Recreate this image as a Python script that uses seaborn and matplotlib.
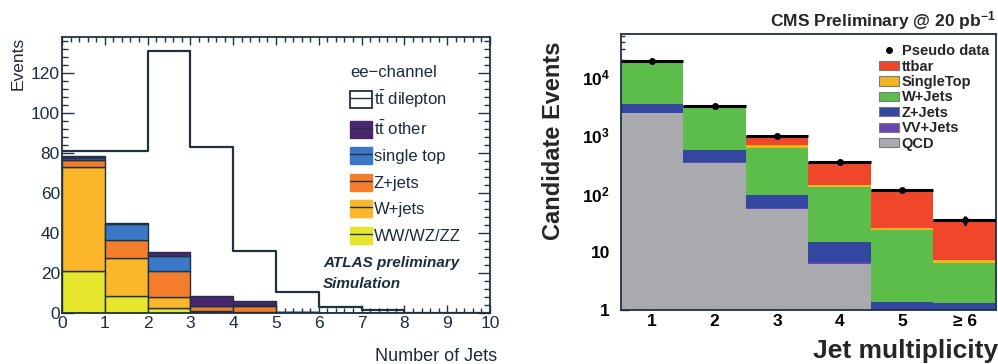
import numpy as np
import pandas as pd
import matplotlib.pyplot as plt
import matplotlib.ticker as mticker
from matplotlib.patches import Patch
from matplotlib.lines import Line2D
import seaborn as sns

# ---- left panel: ATLAS ee-channel, events per jet bin ----
atlas_jets = np.arange(10)
atlas_edges = list(range(11))
ww_wz_zz = [21.0, 8.3, 2.5, 0.3, 0.1, 0.0, 0.0, 0.0, 0.0, 0.0]
w_jets = [52.0, 19.2, 5.5, 0.5, 0.2, 0.1, 0.0, 0.0, 0.0, 0.0]
z_jets = [3.3, 8.8, 13.0, 2.5, 3.0, 0.2, 0.1, 0.0, 0.0, 0.0]
single_top = [1.2, 8.0, 7.3, 0.3, 0.5, 0.1, 0.0, 0.0, 0.0, 0.0]
tt_other = [1.2, 0.5, 2.4, 4.7, 2.4, 0.3, 0.1, 0.1, 0.0, 0.0]
tt_dilepton = [2.3, 36.2, 100.3, 74.7, 24.8, 9.8, 2.8, 1.4, 0.0, 0.0]

# listed bottom -> top of the stack
atlas_processes = ['WW/WZ/ZZ', 'W+jets', 'Z+jets', 'single top', 'tt other']
atlas_values = [ww_wz_zz, w_jets, z_jets, single_top, tt_other]
atlas_colors = ['#e6e62c', '#fbb62a', '#f47d2c', '#3b78c8', '#4b2670']

# ---- right panel: CMS candidate events vs jet multiplicity ----
cms_bins = np.arange(1, 7)
cms_edges = [0.5, 1.5, 2.5, 3.5, 4.5, 5.5, 6.5]
cms_ticklabels = ['1', '2', '3', '4', '5', '≥ 6']
qcd = [2400, 338, 54.5, 6.1, 0.0, 0.0]
vv_jets = [25, 8, 2, 0.5, 0.15, 0.1]
z_plus_jets = [975, 204, 39.5, 8.4, 1.24, 1.24]
w_plus_jets = [15500, 2500, 517, 115, 22.6, 5.16]
single_top_cms = [40, 40, 57, 13, 2.0, 0.8]
ttbar = [60, 130, 300, 209, 87, 28.3]
pseudo_data = [19000, 3200, 970, 350, 113, 35]

# listed bottom -> top of the stack
cms_processes = ['QCD', 'VV+Jets', 'Z+Jets', 'W+Jets', 'SingleTop', 'ttbar']
cms_values = [qcd, vv_jets, z_plus_jets, w_plus_jets, single_top_cms, ttbar]
cms_colors = ['#a9aaae', '#6a45b0', '#3447a0', '#5cbd4a', '#f6b41e', '#f0462a']

sns.set_style('ticks')
plt.rcParams['font.family'] = ['Liberation Sans', 'DejaVu Sans']
plt.rcParams['mathtext.fontset'] = 'custom'
plt.rcParams['mathtext.rm'] = 'Liberation Sans'
plt.rcParams['mathtext.it'] = 'Liberation Sans:italic'
plt.rcParams['mathtext.bf'] = 'Liberation Sans:bold'

line_c = '#1d3344'
txt_c = '#1b2c3e'

fig = plt.figure(figsize=(9.98, 3.64), dpi=100)
ax1 = fig.add_axes([0.0621, 0.140, 0.4289, 0.758])
ax2 = fig.add_axes([0.6222, 0.1484, 0.3758, 0.758])

# ---------------- ATLAS ----------------
# seaborn puts the first hue level on top of the stack, so feed it reversed
df_atlas = pd.DataFrame({
    'jets': np.tile(atlas_jets, len(atlas_processes)),
    'events': np.concatenate(atlas_values),
    'process': np.repeat(atlas_processes, len(atlas_jets)),
})
sns.histplot(data=df_atlas, x='jets', weights='events', hue='process',
             hue_order=atlas_processes[::-1], multiple='stack', bins=atlas_edges,
             palette=atlas_colors[::-1], edgecolor=line_c, linewidth=1.0, alpha=1,
             legend=False, ax=ax1)

atlas_total = np.sum(atlas_values, axis=0) + np.array(tt_dilepton)
sns.histplot(x=atlas_jets, weights=atlas_total, bins=atlas_edges,
             element='step', fill=False, color=line_c, linewidth=1.6, ax=ax1)

ax1.set_xlim(0, 10)
ax1.set_ylim(0, 138)
ax1.xaxis.set_major_locator(mticker.MultipleLocator(1))
ax1.xaxis.set_minor_locator(mticker.MultipleLocator(0.2))
ax1.yaxis.set_major_locator(mticker.MultipleLocator(20))
ax1.yaxis.set_minor_locator(mticker.MultipleLocator(4))
ax1.tick_params(which='both', direction='in', top=True, right=True,
                colors=line_c, labelcolor=txt_c, labelsize=12.5, width=1.0)
ax1.tick_params(axis='y', which='major', length=8.5, pad=1.5)
ax1.tick_params(axis='y', which='minor', length=4.5)
ax1.tick_params(axis='x', which='major', length=6, pad=2)
ax1.tick_params(axis='x', which='minor', length=3.5)
for sp in ax1.spines.values():
    sp.set_visible(True)
    sp.set_color(line_c)
    sp.set_linewidth(1.3)

ax1.set_ylabel('Events', loc='top', fontsize=12.5, color=txt_c)
ax1.yaxis.set_label_coords(-0.086, 1.0)
ax1.set_xlabel('Number of Jets', loc='right', fontsize=13, color=txt_c)
ax1.xaxis.set_label_coords(1.016, -0.125)

tt = r'$\mathrm{t\bar{t}}$'
atlas_handles = [(Patch(facecolor='white', edgecolor=line_c, linewidth=1.3),
                  Line2D([], [], color=line_c, lw=1.0))]
atlas_labels = [tt + ' dilepton', tt + ' other', 'single top', 'Z+jets', 'W+jets', 'WW/WZ/ZZ']
for col in atlas_colors[::-1]:
    atlas_handles.append((Patch(facecolor=col, edgecolor=col, linewidth=1.0),
                          Line2D([], [], color=line_c, lw=1.0)))
leg1 = ax1.legend(atlas_handles, atlas_labels, title='ee\u2212channel',
                  loc='upper left', bbox_to_anchor=(0.654, 0.93), frameon=False,
                  fontsize=12, title_fontsize=12, handlelength=1.3, handleheight=1.2,
                  handletextpad=0.1, labelspacing=0.56, borderpad=0, alignment='left')
for t in leg1.get_texts():
    t.set_color(txt_c)
leg1.get_title().set_color(txt_c)

ax1.text(0.61, 0.181, 'ATLAS preliminary', transform=ax1.transAxes,
         fontsize=11, fontweight='bold', fontstyle='italic', color=txt_c, va='center')
ax1.text(0.61, 0.105, 'Simulation', transform=ax1.transAxes,
         fontsize=11, fontweight='bold', fontstyle='italic', color=txt_c, va='center')

# ---------------- CMS ----------------
df_cms = pd.DataFrame({
    'njets': np.tile(cms_bins, len(cms_processes)),
    'events': np.concatenate(cms_values),
    'process': np.repeat(cms_processes, len(cms_bins)),
})
sns.histplot(data=df_cms, x='njets', weights='events', hue='process',
             hue_order=cms_processes[::-1], multiple='stack', bins=cms_edges,
             palette=cms_colors[::-1], edgecolor='none', linewidth=0, alpha=1,
             legend=False, ax=ax2)
ax2.set_yscale('log')
ax2.errorbar(cms_bins, pseudo_data, xerr=0.5, yerr=np.sqrt(pseudo_data),
             fmt='o', color='black', ms=4, elinewidth=2.2, capsize=0, zorder=5)

ax2.set_xlim(0.5, 6.5)
ax2.set_ylim(1, 5.5e4)
ax2.set_xticks(cms_bins)
ax2.set_xticklabels(cms_ticklabels)
ax2.yaxis.set_major_locator(mticker.LogLocator(base=10, numticks=10))
ax2.yaxis.set_minor_locator(mticker.LogLocator(base=10, subs=np.arange(2, 10), numticks=20))
ax2.yaxis.set_minor_formatter(mticker.NullFormatter())


def cms_fmt(v, pos):
    e = int(round(np.log10(v)))
    if e == 0:
        return '1'
    if e == 1:
        return '10'
    return r'$\mathbf{10^{%d}}$' % e


ax2.yaxis.set_major_formatter(mticker.FuncFormatter(cms_fmt))
ax2.tick_params(which='both', direction='in', colors=line_c, labelcolor='black',
                labelsize=12.5, width=1.0)
ax2.tick_params(axis='y', which='major', length=6, pad=8)
ax2.tick_params(axis='y', which='minor', length=3)
ax2.tick_params(axis='x', which='major', length=6, pad=3)
ax2.tick_params(axis='x', which='minor', length=0)
for lab in ax2.get_xticklabels() + ax2.get_yticklabels():
    lab.set_fontweight('bold')
for sp in ax2.spines.values():
    sp.set_visible(True)
    sp.set_color(line_c)
    sp.set_linewidth(1.3)

ax2.set_ylabel('Candidate Events', fontsize=17, fontweight='bold')
ax2.yaxis.set_label_coords(-0.149, 0.612)
ax2.set_xlabel('Jet multiplicity', loc='right', fontsize=19, fontweight='bold')
ax2.xaxis.set_label_coords(1.005, -0.105)

cms_handles = [Line2D([], [], ls='none', marker='o', ms=4, color='black')]
for col in cms_colors[::-1]:
    cms_handles.append(Patch(facecolor=col, edgecolor='#7a7a7a', linewidth=0.8))
leg2 = ax2.legend(cms_handles, ['Pseudo data'] + cms_processes[::-1],
                  loc='upper left', bbox_to_anchor=(0.668, 0.99), frameon=False,
                  prop={'size': 10.5, 'weight': 'bold'}, handlelength=1.37,
                  handleheight=0.6, handletextpad=0.2, labelspacing=0.1, borderpad=0)

fig.text(0.998, 1 - 21 / 364, r'CMS Preliminary @ 20 pb$^{\mathbf{-1}}$', ha='right',
         va='center', fontsize=12.5, fontweight='bold')

fig.savefig('out.png', dpi=100)
